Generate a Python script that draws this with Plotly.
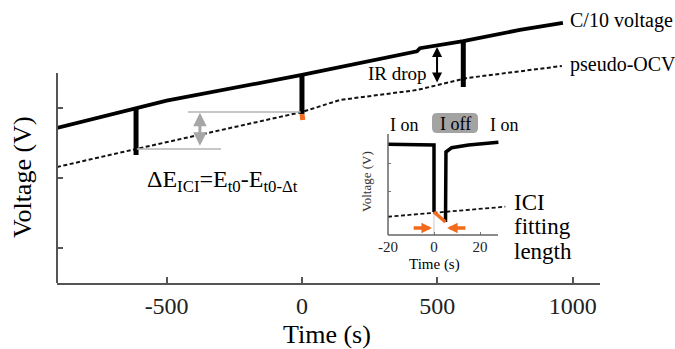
import plotly.graph_objects as go

# ---------------- data (main panel) ----------------
c10_time = [-905, -613, -500, 0, 362, 425, 436, 596, 805, 964]
c10_volt = [2.719, 3.004, 3.110, 3.476, 3.761, 3.815, 3.858, 3.961, 4.119, 4.219]

ocv_time = [-905, -613, 0, 140, 425, 499, 610, 960]
ocv_volt = [2.161, 2.419, 2.947, 3.119, 3.261, 3.333, 3.433, 3.604]

pulse_time = [-613, 0, 596]
pulse_top = [3.004, 3.476, 3.961]
pulse_bottom = [2.333, 2.919, 3.304]

relax_time = [0, 3]
relax_volt = [2.919, 2.833]

x_ticks = [-500, 0, 500, 1000]
x_ticklabels = ["-500", "0", "500", "1000"]
y_ticks = [1, 2, 3]

# ---------------- data (inset) ----------------
in_on1_t = [-20, -1, 0, 0]
in_on1_v = [9.07, 9.07, 9.0, 2.3]
in_off_t = [0, 5]
in_off_v = [2.3, 1.3]
in_on2_t = [5, 5.2, 7.7, 15, 28]
in_on2_v = [1.3, 8.3, 8.73, 9.0, 9.27]
in_ocv_t = [-20, 31]
in_ocv_v = [1.83, 2.83]
in_x_ticks = [-20, 0, 20]
in_x_ticklabels = ["-20", "0", "20"]
in_y_ticks = [1.8, 4.4, 7.2]

FONT = "Liberation Serif"
W, H = 675, 349
ML, MR, MT, MB = 57, 75, 0, 66
PW, PH = W - ML - MR, H - MT - MB


def PX(px):
    return (px - ML) / PW


def PY(py):
    return (H - MB - py) / PH


fig = go.Figure()

# main traces
fig.add_trace(go.Scatter(x=ocv_time, y=ocv_volt, mode="lines",
                         line=dict(color="#111111", width=2, dash="4px,2.5px")))
fig.add_trace(go.Scatter(x=c10_time, y=c10_volt, mode="lines",
                         line=dict(color="black", width=3.8)))
px_, py_ = [], []
for t, a, b in zip(pulse_time, pulse_top, pulse_bottom):
    px_ += [t, t, None]
    py_ += [a, b, None]
fig.add_trace(go.Scatter(x=px_, y=py_, mode="lines",
                         line=dict(color="black", width=5)))
fig.add_trace(go.Scatter(x=relax_time, y=relax_volt, mode="lines",
                         line=dict(color="#f26a1b", width=5)))

# inset traces
fig.add_trace(go.Scatter(x=[0, 0], y=[0, 9.2], mode="lines", xaxis="x2", yaxis="y2",
                         line=dict(color="#c8c8c8", width=1)))
fig.add_trace(go.Scatter(x=in_ocv_t, y=in_ocv_v, mode="lines", xaxis="x2", yaxis="y2",
                         line=dict(color="#111111", width=1.8, dash="4px,2.5px")))
fig.add_trace(go.Scatter(x=in_on1_t, y=in_on1_v, mode="lines", xaxis="x2", yaxis="y2",
                         line=dict(color="black", width=3.5)))
fig.add_trace(go.Scatter(x=in_on2_t, y=in_on2_v, mode="lines", xaxis="x2", yaxis="y2",
                         line=dict(color="black", width=3.5)))
fig.add_trace(go.Scatter(x=in_off_t, y=in_off_v, mode="lines", xaxis="x2", yaxis="y2",
                         line=dict(color="#f26a1b", width=3.5)))

y_lo = 1 + (248.3 - (H - MB)) / 70
y_hi = 1 + 248.3 / 70

fig.update_layout(
    width=W, height=H,
    margin=dict(l=ML, r=MR, t=MT, b=MB, pad=0),
    paper_bgcolor="white", plot_bgcolor="white",
    showlegend=False,
    font=dict(family=FONT, color="black"),
    xaxis=dict(range=[-905, 1101], showgrid=False, zeroline=False,
               showline=True, linecolor="#555555", linewidth=2,
               ticks="inside", ticklen=6, tickwidth=1.5, tickcolor="#555555",
               tickvals=x_ticks, ticktext=x_ticklabels,
               tickfont=dict(family=FONT, size=24, color="#222222"),
               ticklabelstandoff=0),
    yaxis=dict(range=[y_lo, y_hi], showgrid=False, zeroline=False,
               showline=False, ticks="inside", ticklen=6, tickwidth=1.5,
               tickcolor="#555555", tickvals=y_ticks, showticklabels=False),
    xaxis2=dict(domain=[PX(388), PX(510)], anchor="y2",
                range=[-20, -20 + 122 / 2.3], showgrid=False, zeroline=False,
                showline=False, ticks="inside", ticklen=3, tickwidth=1,
                tickcolor="#777777", tickvals=in_x_ticks, ticktext=in_x_ticklabels,
                tickfont=dict(family=FONT, size=15, color="#222222"),
                ticklabelstandoff=1),
    yaxis2=dict(domain=[PY(235), PY(133)], anchor="x2",
                range=[0, 10.2], showgrid=False, zeroline=False,
                showline=False, ticks="inside", ticklen=3, tickwidth=1,
                tickcolor="#777777", tickvals=in_y_ticks, showticklabels=False),
)

shapes = []
# main left spine (short)
shapes.append(dict(type="line", xref="paper", yref="paper", x0=0, x1=0,
                   y0=0, y1=PY(73), line=dict(color="#555555", width=2)))
# inset spines
shapes.append(dict(type="line", xref="paper", yref="paper", x0=PX(388), x1=PX(388),
                   y0=PY(235), y1=PY(134), line=dict(color="#666666", width=1.5)))
shapes.append(dict(type="line", xref="paper", yref="paper", x0=PX(388), x1=PX(498),
                   y0=PY(235), y1=PY(235), line=dict(color="#666666", width=1.5)))
# gray guide lines for Delta E
shapes.append(dict(type="line", xref="x", yref="y", x0=-421, x1=-5,
                   y0=ocv_volt[2], y1=ocv_volt[2], line=dict(color="#b4b4b4", width=1.5)))
shapes.append(dict(type="line", xref="x", yref="y", x0=-610, x1=-299,
                   y0=ocv_volt[1], y1=ocv_volt[1], line=dict(color="#b4b4b4", width=1.5)))


# rounded box for "I off"
def rounded(px0, py0, px1, py1, r):
    x0, x1 = PX(px0), PX(px1)
    y0, y1 = PY(py1), PY(py0)
    rx, ry = r / PW, r / PH
    return (f"M {x0+rx},{y0} L {x1-rx},{y0} Q {x1},{y0} {x1},{y0+ry} "
            f"L {x1},{y1-ry} Q {x1},{y1} {x1-rx},{y1} L {x0+rx},{y1} "
            f"Q {x0},{y1} {x0},{y1-ry} L {x0},{y0+ry} Q {x0},{y0} {x0+rx},{y0} Z")


shapes.append(dict(type="path", xref="paper", yref="paper",
                   path=rounded(432, 113, 478, 133, 5),
                   fillcolor="#a3a3a3", line=dict(width=0)))
fig.update_layout(shapes=shapes)

ann = []


def txt(text, x, y, size, xanchor="center", yanchor="middle", angle=0, color="black"):
    ann.append(dict(text=text, x=x, y=y, xref="paper", yref="paper", showarrow=False,
                    xanchor=xanchor, yanchor=yanchor, textangle=angle,
                    font=dict(family=FONT, size=size, color=color)))


txt("C/10 voltage", PX(568), PY(21), 20, xanchor="left")
txt("pseudo-OCV", PX(568), PY(65), 20, xanchor="left")
txt("IR drop", PX(397), PY(74), 19)
txt("ΔE<sub>ICI</sub>=E<sub>t0</sub>-E<sub>t0-Δt</sub>", PX(145), PY(181), 24, xanchor="left")
txt("Voltage (V)", PX(22), PY(177), 26, angle=-90)
txt("Time (s)", PX(327), PY(334), 26)
txt("I on", PX(404), PY(125), 18)
txt("I off", PX(455), PY(124), 18)
txt("I on", PX(504), PY(125), 18)
txt("ICI", PX(512), PY(202), 23, xanchor="left")
txt("fitting", PX(512), PY(226), 23, xanchor="left")
txt("length", PX(512), PY(251), 23, xanchor="left")
txt("Voltage (V)", PX(366), PY(182), 13, angle=-90, color="#333333")
txt("Time (s)", PX(434), PY(264), 15)


def arrow(x, y, ax, ay, xr, yr, color, width, size, both=False):
    ann.append(dict(text="", x=x, y=y, ax=ax, ay=ay, xref=xr, yref=yr,
                    axref=xr, ayref=yr, showarrow=True, arrowhead=2,
                    arrowside="end+start" if both else "end",
                    arrowcolor=color, arrowwidth=width, arrowsize=size))


arrow(-377, 2.935, -377, 2.445, "x", "y", "#a6a6a6", 3, 0.9, both=True)
arrow(499, 3.876, 499, 3.347, "x", "y", "black", 2, 1, both=True)
arrow(-0.9, 0.7, -9.5, 0.7, "x2", "y2", "#f26a1b", 3.5, 0.6)
arrow(5.7, 0.7, 14.3, 0.7, "x2", "y2", "#f26a1b", 3.5, 0.6)

fig.update_layout(annotations=ann)

fig.write_html("out.html")
